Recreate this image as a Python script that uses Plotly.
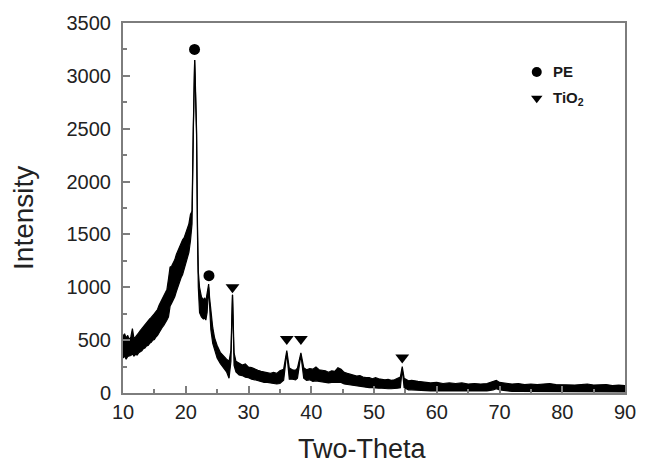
import plotly.graph_objects as go

# Two-theta sample positions (deg) and noise-band envelopes of the XRD pattern (intensity)
two_theta = [10.0, 10.25, 10.5, 10.75, 11.0, 11.25, 11.5, 11.75, 12.0, 12.25, 12.5, 12.75,
             13.0, 13.25, 13.5, 13.75, 14.0, 14.25, 14.5, 14.75, 15.0, 15.25, 15.5, 15.75,
             16.0, 16.25, 16.5, 16.75, 17.0, 17.25, 17.5, 17.75, 18.0, 18.25, 18.5, 18.75,
             19.0, 19.25, 19.5, 19.75, 20.0, 20.25, 20.5, 20.75, 21.0,
             21.2, 21.35, 21.42, 21.5, 21.72, 21.87, 22.0, 22.2, 22.5, 22.8, 23.0, 23.2, 23.4,
             23.65, 23.8, 24.0, 24.3, 24.6, 25.0, 25.5, 26.0, 26.5, 26.9, 27.2, 27.45,
             27.7, 28.0, 28.5, 29.0, 29.5, 30.0, 30.5, 31.0, 31.5, 32.0, 32.5, 33.0, 33.5,
             34.0, 34.5, 35.0, 35.6, 36.1, 36.5, 37.0, 37.5, 37.8, 38.35, 38.8, 39.25,
             39.75, 40.25, 40.75, 41.25, 41.75, 42.25, 42.75, 43.25, 43.75, 44.25, 44.75,
             45.25, 45.75, 46.25, 46.75, 47.25, 47.75, 48.25, 48.75, 49.25, 49.75, 50.25,
             50.75, 51.25, 51.75, 52.25, 52.75, 53.25, 53.75, 54.2, 54.5, 54.8, 55.5,
             56.0, 57.0, 58.0, 59.0, 60.0, 61.0, 62.0, 63.0, 64.0, 65.0, 66.0, 67.0, 68.0,
             69.0, 69.5, 70.0, 71.0, 72.0, 73.0, 74.0, 75.0, 76.0, 77.0, 78.0, 79.0, 80.0,
             81.0, 82.0, 83.0, 84.0, 85.0, 86.0, 87.0, 88.0, 89.0, 90.0]
band_upper = [540, 560, 520, 545, 505, 530, 610, 515, 530, 555, 570, 590,
              610, 625, 650, 660, 690, 700, 715, 730, 750, 770, 790, 830,
              860, 880, 910, 940, 980, 1080, 1190, 1200, 1230, 1260, 1310, 1350,
              1390, 1420, 1450, 1470, 1510, 1550, 1600, 1690, 1720,
              2500, 3050, 3150, 3000, 2500, 1600, 1150, 1000, 910, 880, 900, 870, 930,
              1030, 900, 760, 620, 520, 450, 385, 350, 320, 300, 400, 930,
              380, 300, 285, 265, 275, 245, 240, 225, 215, 205, 200, 195, 185,
              195, 185, 210, 225, 400, 235, 220, 215, 235, 380, 240, 220,
              230, 225, 245, 220, 215, 210, 195, 210, 205, 240, 225,
              195, 185, 175, 170, 160, 165, 150, 145, 145, 135, 145,
              135, 130, 125, 130, 120, 125, 135, 150, 250, 140, 115,
              120, 110, 100, 95, 100, 90, 95, 90, 95, 85, 90, 85, 90,
              110, 120, 100, 90, 85, 90, 80, 85, 80, 85, 90, 80, 78,
              80, 75, 80, 85, 75, 75, 80, 70, 75, 70]
band_lower = [330, 350, 320, 345, 350, 355, 370, 350, 365, 360, 380, 390,
              400, 420, 425, 445, 450, 470, 480, 500, 505, 530, 545, 570,
              600, 620, 640, 660, 690, 720, 820, 850, 880, 910, 960, 1010,
              1060, 1090, 1120, 1170, 1220, 1270, 1330, 1440, 1600,
              2450, 3000, 3150, 2950, 2450, 1500, 1000, 760, 720, 700, 710, 690, 760,
              1000, 760, 600, 470, 400, 330, 280, 240, 200, 140, 300, 930,
              260, 200, 170, 165, 150, 145, 130, 125, 115, 110, 100, 100, 95,
              90, 85, 90, 120, 380, 130, 130, 125, 140, 360, 140, 120,
              125, 110, 115, 110, 105, 105, 95, 100, 100, 105, 100,
              85, 80, 75, 70, 65, 60, 55, 55, 50, 50, 45,
              45, 45, 40, 40, 40, 40, 45, 50, 230, 50, 30,
              30, 25, 25, 20, 20, 20, 20, 15, 20, 15, 15, 15, 20,
              30, 40, 30, 20, 15, 15, 15, 15, 15, 15, 15, 15, 15,
              10, 10, 10, 10, 10, 10, 10, 10, 10, 10]

# Peak markers
pe_x = [21.4, 23.7]
pe_y = [3250, 1110]
tio2_x = [27.45, 36.1, 38.35, 54.5]
tio2_y = [1000, 510, 510, 335]

# Legend entries
legend_labels = ["PE", "TiO<sub>2</sub>"]
legend_symbols = ["circle", "triangle-down"]

x_ticks = [10, 20, 30, 40, 50, 60, 70, 80, 90]
y_ticks = [0, 500, 1000, 1500, 2000, 2500, 3000, 3500]

FONT = "Liberation Sans, Arial, sans-serif"
FRAME = "#7d7d7d"

fig = go.Figure()
fig.add_trace(go.Scatter(x=two_theta, y=band_lower, mode="lines",
                         line=dict(color="black", width=1.2), showlegend=False,
                         hoverinfo="skip"))
fig.add_trace(go.Scatter(x=two_theta, y=band_upper, mode="lines", fill="tonexty",
                         fillcolor="black", line=dict(color="black", width=1.2),
                         showlegend=False, hoverinfo="skip"))
fig.add_trace(go.Scatter(x=pe_x, y=pe_y, mode="markers", name="PE", showlegend=False,
                         marker=dict(symbol="circle", size=11, color="black")))
fig.add_trace(go.Scatter(x=tio2_x, y=tio2_y, mode="markers", name="TiO2", showlegend=False,
                         marker=dict(symbol="triangle-down", size=12, color="black")))

# Custom legend drawn on an overlay axis spanning the plot area (0..1)
leg_x = 0.8242
leg_ys = [0.8677, 0.7963]
for sym, ly in zip(legend_symbols, leg_ys):
    fig.add_trace(go.Scatter(x=[leg_x], y=[ly], mode="markers", xaxis="x2", yaxis="y2",
                             showlegend=False, hoverinfo="skip",
                             marker=dict(symbol=sym, size=10, color="black")))

axis_common = dict(showgrid=False, zeroline=False, showline=True, linecolor=FRAME,
                   linewidth=2, mirror=True, ticks="inside", tickcolor=FRAME,
                   tickwidth=1.5, ticklen=7,
                   tickfont=dict(family=FONT, size=20, color="#222222"))

fig.update_xaxes(range=[10, 90], tickvals=x_ticks,
                 minor=dict(dtick=5, ticks="inside", ticklen=4, tickcolor=FRAME,
                            tickwidth=1.5),
                 ticklabelstandoff=0, **axis_common)
fig.update_yaxes(range=[0, 3500], tickvals=y_ticks,
                 minor=dict(dtick=250, ticks="inside", ticklen=4, tickcolor=FRAME,
                            tickwidth=1.5),
                 ticklabelstandoff=6, **axis_common)

annotations = [
    dict(text="Intensity", xref="paper", yref="paper", x=-0.197, y=0.4735,
         textangle=-90, showarrow=False, xanchor="center", yanchor="middle",
         font=dict(family=FONT, size=28, color="#222")),
    dict(text="Two-Theta", xref="paper", yref="paper", x=0.4766, y=-0.1508,
         showarrow=False, xanchor="center", yanchor="middle",
         font=dict(family=FONT, size=27, color="#222")),
]
for lab, ly in zip(legend_labels, leg_ys):
    annotations.append(dict(text=lab, xref="paper", yref="paper", x=0.8516, y=ly,
                            showarrow=False, xanchor="left", yanchor="middle",
                            font=dict(family=FONT, size=15, color="#1a1a1a", weight="bold")))

fig.update_layout(
    width=648, height=464,
    margin=dict(l=123, r=13, t=15, b=71),
    paper_bgcolor="white", plot_bgcolor="white",
    showlegend=False,
    xaxis2=dict(overlaying="x", range=[0, 1], visible=False),
    yaxis2=dict(overlaying="y", range=[0, 1], visible=False),
    annotations=annotations,
)

fig.write_html("out.html")
